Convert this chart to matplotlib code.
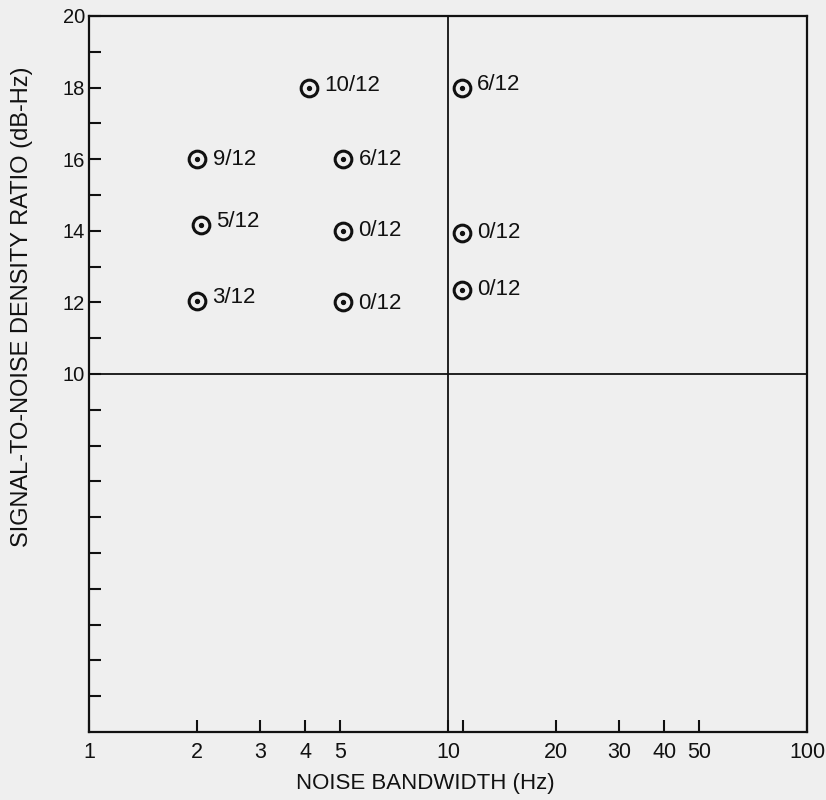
import matplotlib
matplotlib.use("Agg")
import matplotlib.pyplot as plt

# dados
bandwidth = [2.0, 2.05, 2.0, 4.1, 5.1, 5.1, 5.1, 10.9, 10.9, 10.9]
snr = [16.0, 14.15, 12.05, 18.0, 16.0, 14.0, 12.0, 18.0, 13.95, 12.35]
labels = ["9/12", "5/12", "3/12", "10/12", "6/12", "0/12", "0/12", "6/12", "0/12", "0/12"]
# deslocamento vertical do texto (alguns rótulos ficam um pouco acima do ponto)
label_dy = [0, 3, 2, 1.5, 0, 0, -0.5, 2, 0, 0]

x_ticks = [1, 2, 3, 4, 5, 10, 20, 30, 40, 50, 100]
x_ticklabels = ["1", "2", "3", "4", "5", "10", "20", "30", "40", "50", "100"]
y_major = [10, 12, 14, 16, 18, 20]
y_minor = [1, 2, 3, 4, 5, 6, 7, 8, 9, 11, 13, 15, 17, 19]

BG = "#efefef"
INK = "#111111"

plt.rcParams["font.family"] = ["Liberation Sans", "DejaVu Sans"]

fig = plt.figure(figsize=(8.26, 8.0), dpi=100, facecolor=BG)
ax = fig.add_axes([0.108, 0.085, 0.869, 0.895], facecolor=BG)

ax.set_xscale("log")
ax.set_xlim(1, 100)
ax.set_ylim(0, 20)

ax.axvline(10, color=INK, lw=1.3)
ax.axhline(10, color=INK, lw=1.3)

ax.plot(bandwidth, snr, "o", ms=12, mfc="none", mec=INK, mew=2.2, zorder=3)
ax.plot(bandwidth, snr, "o", ms=2.8, color=INK, zorder=4)

for x, y, t, dy in zip(bandwidth, snr, labels, label_dy):
    ax.annotate(t, (x, y), xytext=(11, dy), textcoords="offset points",
                fontsize=16, color=INK, va="center", ha="left")

for s in ["top", "right"]:
    ax.spines[s].set_visible(False)
for s in ["left", "bottom"]:
    ax.spines[s].set_linewidth(1.6)
    ax.spines[s].set_color(INK)

ax.set_xticks(x_ticks)
ax.set_xticklabels(x_ticklabels)
ax.set_xticks([11], minor=True)
ax.set_yticks(y_major)
ax.set_yticks(y_minor, minor=True)
ax.tick_params(axis="both", which="both", direction="in", length=8.5, width=1.5,
               color=INK, labelcolor=INK)
ax.tick_params(axis="x", which="major", pad=7, labelsize=15.5)
ax.tick_params(axis="y", which="major", pad=3, labelsize=14.5)
ax.tick_params(axis="x", which="minor", labelbottom=False)

# caixa completa (topo e direita)
ax.plot([1, 100], [20, 20], color=INK, lw=1.6, clip_on=False)
ax.plot([100, 100], [0, 20], color=INK, lw=1.6, clip_on=False)

ax.set_xlabel("NOISE BANDWIDTH (Hz)", fontsize=16, color=INK, va="center")
ax.xaxis.set_label_coords(0.468, -0.0726)
ax.set_ylabel("SIGNAL-TO-NOISE DENSITY RATIO (dB-Hz)", fontsize=17, color=INK, va="center")
ax.yaxis.set_label_coords(-0.094, 0.594)

fig.savefig("out.png", dpi=100, facecolor=BG)
